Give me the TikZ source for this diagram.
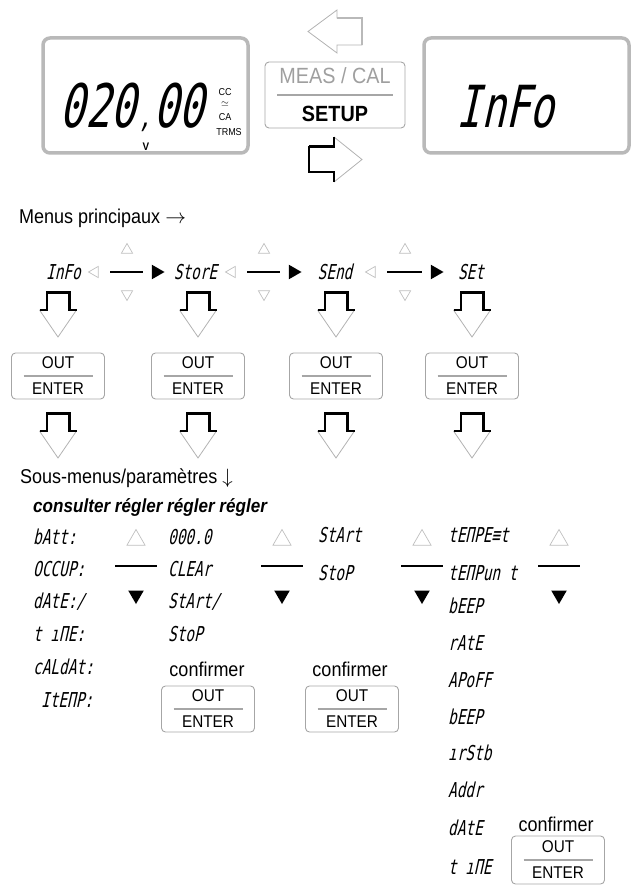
\documentclass[tikz,border=0pt]{standalone}
\usepackage{fontspec}
\setmainfont[FakeStretch=0.9]{Liberation Sans}
\newfontfamily\lcdfont[FakeSlant=0.22,FakeStretch=0.7]{DejaVu Sans Mono}
\usetikzlibrary{shapes.geometric}

\begin{document}
\begin{tikzpicture}[x=1pt, y=-1pt,
        lcd/.style={draw=gray!55, line width=3.5pt, rounded corners=7pt,
                minimum width=205pt, minimum height=115pt},
        seg/.style={font=\lcdfont\fontsize{20.5}{20.5}\selectfont,
                inner sep=0pt, text depth=0pt, anchor=west},
        lab/.style={font=\fontsize{20}{24}\selectfont, inner sep=0pt},
        unit/.style={font=\fontsize{10}{10}\selectfont, inner sep=0pt},
        key/.style={draw=gray!70, line width=0.9pt, rounded corners=4pt,
                minimum width=93pt, minimum height=46pt, inner sep=0pt,
                align=center, font=\fontsize{17}{26}\selectfont,
                path picture={\draw[line width=1.5pt]
                    ([xshift=12pt]path picture bounding box.west) --
                    ([xshift=-12pt]path picture bounding box.east);}},
        tri/.style={regular polygon, regular polygon sides=3, inner sep=0pt},
        hollowtri/.style={tri, draw=gray!50, line width=0.7pt},
        blacktri/.style={tri, fill=black},
        bar/.style={line width=1.5pt},
        head/.style={draw=gray!60, line width=0.8pt, line join=miter},
        stem/.style={line width=1.6pt, line join=miter}
    ]
    \useasboundingbox (0,0) rectangle (634,890);

    % displays and setup key
    \node[lcd] (meas) at (145.5,95.5) {};
    \node[lcd] (menu) at (526.5,95.5) {};
    \node[font=\lcdfont\fontsize{60}{60}\selectfont, inner sep=0pt, text depth=0pt]
        (reading) at (132,105.5)
        {020\makebox[0.3em][c]{\fontsize{30}{30}\selectfont ,}00};
    \node[font=\bfseries\fontsize{11}{11}\selectfont, inner sep=0pt] (volt) at (146,147) {V};
    \node[unit] (cc) at (225,92.5) {CC};
    \node[unit] (acdc) at (225,104.5) {$\simeq$};
    \node[unit] (ca) at (225,117.5) {CA};
    \node[unit] (trms) at (229,132.5) {TRMS};
    \node[font=\lcdfont\fontsize{58}{58}\selectfont, inner sep=0pt, text depth=0pt]
        (infobig) at (505.5,106) {InFo};
    \node[key, minimum width=140pt, minimum height=66pt, font=\fontsize{22}{38}\selectfont]
        (setup) at (335,95) {{\color{gray!75}MEAS / CAL}\\\textbf{SETUP}};

    % back / forward arrows
    \draw[head] (308,31.5) -- (337,10) -- (337,18) -- (362,18) -- (362,45)
        -- (337,45) -- (337,53) -- cycle;
    \draw[gray!55, line width=2.5pt] (337,18) -- (362,18) -- (362,45);
    \draw[head] (334,137) -- (362,159.5) -- (334,182);
    \draw[stem] (334,137) -- (334,147) -- (309,147) -- (309,172) -- (334,172) -- (334,182);
    \draw[line width=3pt] (309,147) -- (334,147);

    % main menus
    \node[lab, anchor=west] (mainlab) at (19,218) {Menus principaux $\rightarrow$};
    \node[seg, anchor=center] (info) at (63.5,272) {InFo};
    \node[seg, anchor=center] (store) at (195.5,272) {StorE};
    \node[seg, anchor=center] (send) at (335,272) {SEnd};
    \node[seg, anchor=center] (set) at (471,272) {SEt};
    \foreach \l/\m/\r [count=\i] in {95/127/156, 232/264/293, 372/405/435} {
        \node[hollowtri, minimum size=13pt, shape border rotate=90] (back\i) at (\l,272) {};
        \node[blacktri, minimum size=17pt, shape border rotate=270] (fwd\i) at (\r,272) {};
        \node[hollowtri, minimum size=13pt] (up\i) at (\m,250) {};
        \node[hollowtri, minimum size=13pt, shape border rotate=180] (dn\i) at (\m,294) {};
        \draw[bar] (\l+15,272) -- (\r-13,272);
    }

    % press arrows and OUT/ENTER keys
    \foreach \c [count=\i] in {58,198,336,472} {
        \foreach \t in {292,413} {
            \draw[head] (\c-18.5,\t+18) -- (\c,\t+45) -- (\c+18.5,\t+18);
            \draw[stem] (\c-18.5,\t+18) -- (\c-11,\t+18) -- (\c-11,\t)
                -- (\c+11,\t) -- (\c+11,\t+18) -- (\c+18.5,\t+18);
            \draw[line width=3pt] (\c-11,\t+0.8) -- (\c+11.8,\t+0.8) -- (\c+11.8,\t+18);
        }
        \node[key] (enter\i) at (\c,376) {OUT\\ENTER};
    }

    % sub-menus
    \node[lab, anchor=west] (sublab) at (20,478) {Sous-menus/paramètres $\downarrow$};
    \node[lab, anchor=west, font=\bfseries\itshape\fontsize{19}{22}\selectfont]
        (actlab) at (33,507) {consulter régler régler régler};

    \node[seg] (batt) at (33,537) {bAtt:};
    \node[seg] (occup) at (33,569) {OCCUP:};
    \node[seg] (date) at (33,601) {dAtE:/};
    \node[seg] (time) at (33,634) {t ıΠE:};
    \node[seg] (caldat) at (33,667) {cALdAt:};
    \node[seg] (itemp) at (41,700) {ItEΠP:};

    \node[seg] (count) at (168,537) {000.0};
    \node[seg] (clear) at (168,569) {CLEAr};
    \node[seg] (startstop) at (168,601) {StArt/};
    \node[seg] (stopa) at (168,634) {StoP};

    \node[seg] (start) at (318,535) {StArt};
    \node[seg] (stopb) at (318,573) {StoP};

    \node[seg] (tempext) at (448,535) {tEΠPE≡t};
    \node[seg] (tempunit) at (448,573) {tEΠPun t};
    \node[seg] (beepa) at (448,606) {bEEP};
    \node[seg] (rate) at (448,643) {rAtE};
    \node[seg] (apoff) at (448,680) {APoFF};
    \node[seg] (beepb) at (448,717) {bEEP};
    \node[seg] (irstb) at (448,753) {ırStb};
    \node[seg] (addr) at (448,790) {Addr};
    \node[seg] (dateb) at (448,828) {dAtE};
    \node[seg] (timeb) at (448,867) {t ıΠE};

    \foreach \m [count=\i] in {136,282,422,559} {
        \node[hollowtri, minimum size=21pt] (subup\i) at (\m,540) {};
        \node[blacktri, minimum size=18pt, shape border rotate=180] (subdn\i) at (\m,595) {};
        \draw[bar] (\m-21,566) -- (\m+21,566);
    }

    % confirm keys
    \node[lab] (conf1) at (207,669) {confirmer};
    \node[key] (ok1) at (208,709) {OUT\\ENTER};
    \node[lab] (conf2) at (350,669) {confirmer};
    \node[key] (ok2) at (352,709) {OUT\\ENTER};
    \node[lab] (conf3) at (556,824) {confirmer};
    \node[key, minimum height=48pt] (ok3) at (558,860) {OUT\\ENTER};
\end{tikzpicture}
\end{document}
